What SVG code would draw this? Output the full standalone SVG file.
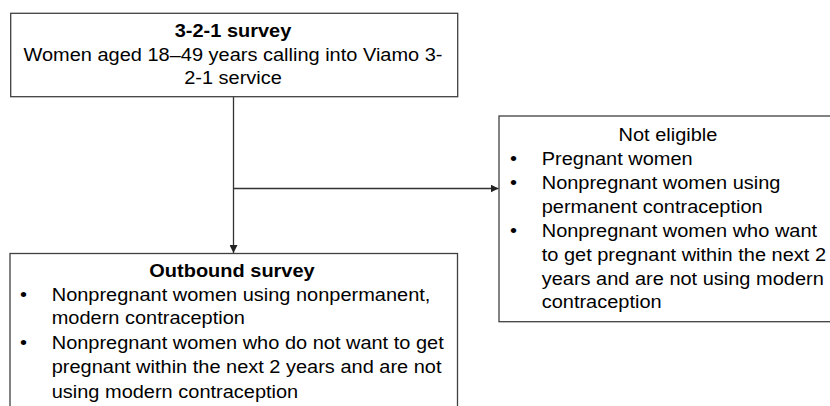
<svg xmlns="http://www.w3.org/2000/svg" width="830" height="406" viewBox="0 0 830 406">
<style>
.box{fill:#fff;stroke:#404040;stroke-width:1.3}
.t{font-family:"Liberation Sans",Arial,sans-serif;font-size:18.5px;fill:#000}
.b{font-weight:bold}
.m{text-anchor:middle}
.con{stroke:#333;stroke-width:1.3;fill:none}
</style>
<defs>
<marker id="ah" markerWidth="8" markerHeight="8" refX="8" refY="4" orient="auto" markerUnits="userSpaceOnUse">
<path d="M0,0 L8,4 L0,8 Z" fill="#222"/>
</marker>
</defs>
<rect width="830" height="406" fill="#fff"/>
<g id="connectors">
<line class="con" x1="233.5" y1="97" x2="233.5" y2="253" marker-end="url(#ah)"/>
<line class="con" x1="233.5" y1="188.5" x2="498.5" y2="188.5" marker-end="url(#ah)"/>
</g>
<g id="survey321">
<rect class="box" x="10.7" y="13.3" width="447" height="83.4"/>
<text class="t b m" transform="translate(233,36.5) scale(1.08,1)">3-2-1 survey</text>
<text class="t m" transform="translate(233,60.5) scale(1.08,1)">Women aged 18–49 years calling into Viamo 3-</text>
<text class="t m" transform="translate(233,84) scale(1.08,1)">2-1 service</text>
</g>
<g id="noteligible">
<rect class="box" x="499" y="116" width="340" height="205.7"/>
<text class="t m" transform="translate(668,141) scale(1.08,1)">Not eligible</text>
<text class="t" transform="translate(510,165) scale(1.08,1)">•</text>
<text class="t" transform="translate(541.7,165) scale(1.08,1)">Pregnant women</text>
<text class="t" transform="translate(510,189) scale(1.08,1)">•</text>
<text class="t" transform="translate(541.7,189) scale(1.08,1)">Nonpregnant women using</text>
<text class="t" transform="translate(541.7,212.5) scale(1.08,1)">permanent contraception</text>
<text class="t" transform="translate(510,236.5) scale(1.08,1)">•</text>
<text class="t" transform="translate(541.7,236.5) scale(1.08,1)">Nonpregnant women who want</text>
<text class="t" transform="translate(541.7,260.5) scale(1.08,1)">to get pregnant within the next 2</text>
<text class="t" transform="translate(541.7,284.5) scale(1.08,1)">years and are not using modern</text>
<text class="t" transform="translate(541.7,308) scale(1.08,1)">contraception</text>
</g>
<g id="outbound">
<rect class="box" x="10" y="253.5" width="447.5" height="160"/>
<text class="t b m" transform="translate(232,277) scale(1.08,1)">Outbound survey</text>
<text class="t" transform="translate(20,300.5) scale(1.08,1)">•</text>
<text class="t" transform="translate(51.7,300.5) scale(1.08,1)">Nonpregnant women using nonpermanent,</text>
<text class="t" transform="translate(51.7,324) scale(1.08,1)">modern contraception</text>
<text class="t" transform="translate(20,349) scale(1.08,1)">•</text>
<text class="t" transform="translate(51.7,349) scale(1.08,1)">Nonpregnant women who do not want to get</text>
<text class="t" transform="translate(51.7,373) scale(1.08,1)">pregnant within the next 2 years and are not</text>
<text class="t" transform="translate(51.7,397.5) scale(1.08,1)">using modern contraception</text>
</g>
</svg>
